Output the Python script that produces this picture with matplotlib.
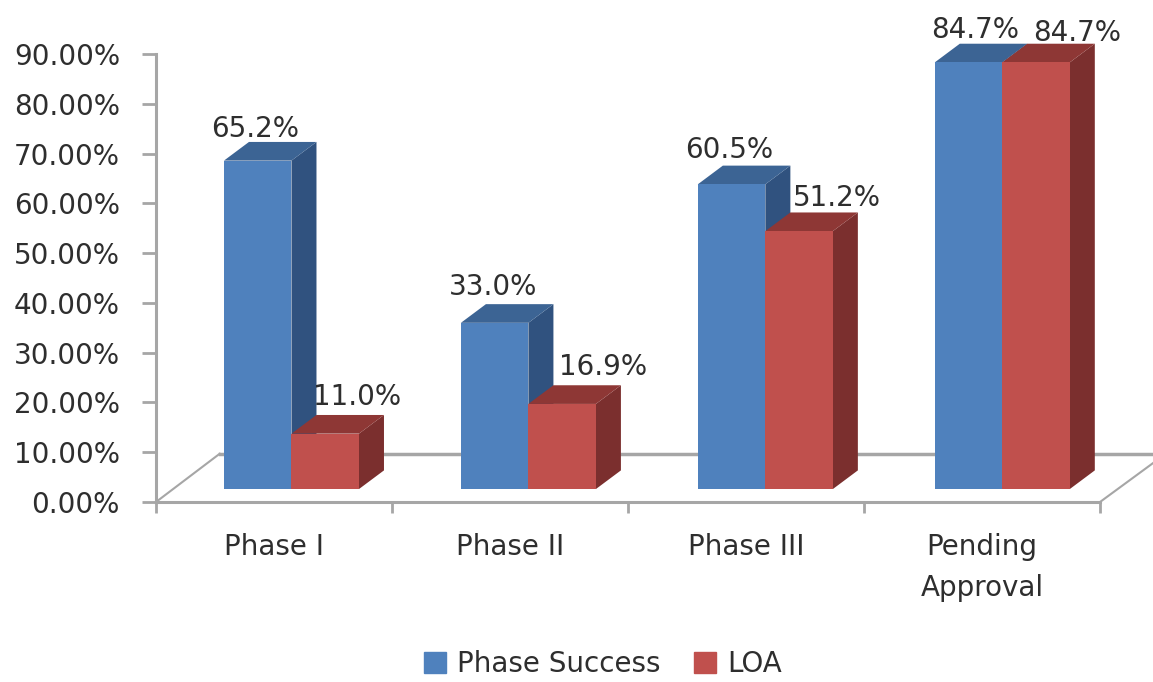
import matplotlib
matplotlib.use("Agg")
import matplotlib.pyplot as plt
from matplotlib.patches import Patch

categorias = ["Phase I", "Phase II", "Phase III", "Pending\nApproval"]
phase_success = [65.2, 33.0, 60.5, 84.7]
loa = [11.0, 16.9, 51.2, 84.7]
ticks_y = [0, 10, 20, 30, 40, 50, 60, 70, 80, 90]

# desplazamiento de cada etiqueta respecto al centro de su barra, en puntos
despl_azul = [(-2, 23), (-1.5, 26), (-1.5, 24.5), (5, 23)]
despl_rojo = [(23, 26.5), (29.5, 26.5), (27, 24), (29.5, 21.5)]

AZUL = ("#4F81BD", "#3C6494", "#30527F")
ROJO = ("#C0504D", "#8E3735", "#7B2F2E")
GRIS = "#A6A6A6"
TEXTO = "#2E2E2E"

ANCHO = 1153
ALTO = 682
# perspectiva de la caja 3D, en unidades de categoria y de porcentaje
PROF_X = 0.106
PROF_Y = 3.75
BASE_BARRA = 2.6
ESCALA_Y = 1.012
INICIO = 0.288
PASO = 1.004
ANCHO_BARRA = 0.286
TAM = 20


def dibujar_barra(ax, x, valor, colores):
    frente, arriba, lado = colores
    y0 = BASE_BARRA
    y1 = BASE_BARRA + valor * ESCALA_Y
    x1 = x + ANCHO_BARRA
    ax.fill([x1, x1 + PROF_X, x1 + PROF_X, x1],
            [y0, y0 + PROF_Y, y1 + PROF_Y, y1], color=lado, lw=0, clip_on=False, zorder=3)
    ax.fill([x, x + PROF_X, x1 + PROF_X, x1],
            [y1, y1 + PROF_Y, y1 + PROF_Y, y1], color=arriba, lw=0, clip_on=False, zorder=3)
    ax.fill([x, x1, x1, x], [y0, y0, y1, y1], color=frente, lw=0, clip_on=False, zorder=3)
    return x + ANCHO_BARRA / 2, y1


def etiquetar(ax, x, y, valor, despl):
    ax.annotate(f"{valor:.1f}%", (x, y), xytext=despl, textcoords="offset points",
                ha="center", va="center", fontsize=TAM, color=TEXTO,
                annotation_clip=False, zorder=5)


fig = plt.figure(figsize=(ANCHO / 100, ALTO / 100), dpi=100)
ax = fig.add_axes([156 / ANCHO, 1 - 502 / ALTO, (1100 - 156) / ANCHO, (502 - 54) / ALTO])
ax.set_xlim(0, 4)
ax.set_ylim(0, 90)

for s in ["top", "right"]:
    ax.spines[s].set_visible(False)
for s in ["left", "bottom"]:
    ax.spines[s].set_color(GRIS)
    ax.spines[s].set_linewidth(2.2)

# suelo del grafico 3D, por detras de las barras
ax.plot([0, 0.27], [0, 9.7], color=GRIS, lw=1.5, clip_on=False, zorder=1)
ax.plot([0.27, 4.3], [9.7, 9.7], color=GRIS, lw=2.5, clip_on=False, zorder=1)
ax.plot([4, 4.23], [0, 8], color=GRIS, lw=1.5, clip_on=False, zorder=1)

ax.set_yticks(ticks_y)
ax.set_yticklabels([f"{t:.2f}%" for t in ticks_y], fontsize=TAM, color=TEXTO)
ax.tick_params(axis="y", length=10, width=2, color=GRIS, pad=16)
ax.set_xticks(range(5))
ax.set_xticklabels([])
ax.tick_params(axis="x", length=8, width=2, color=GRIS)
ax.set_xticks([i + 0.5 for i in range(4)], minor=True)
ax.set_xticklabels(categorias, minor=True, fontsize=TAM, color=TEXTO, linespacing=1.6)
ax.tick_params(axis="x", which="minor", length=0, pad=22)

for i in range(4):
    x = INICIO + i * PASO
    cx, cy = dibujar_barra(ax, x, phase_success[i], AZUL)
    etiquetar(ax, cx, cy, phase_success[i], despl_azul[i])
    cx, cy = dibujar_barra(ax, x + ANCHO_BARRA, loa[i], ROJO)
    etiquetar(ax, cx, cy, loa[i], despl_rojo[i])

leyenda = [Patch(color=AZUL[0], label="Phase Success"), Patch(color=ROJO[0], label="LOA")]
fig.legend(handles=leyenda, loc="center", bbox_to_anchor=(603 / ANCHO, 1 - 664 / ALTO), ncol=2,
           frameon=False, fontsize=TAM, labelcolor=TEXTO, handlelength=0.8, handleheight=0.8,
           handletextpad=0.4, columnspacing=1.2, borderpad=0)

fig.savefig("out.png", dpi=100)
plt.close(fig)
